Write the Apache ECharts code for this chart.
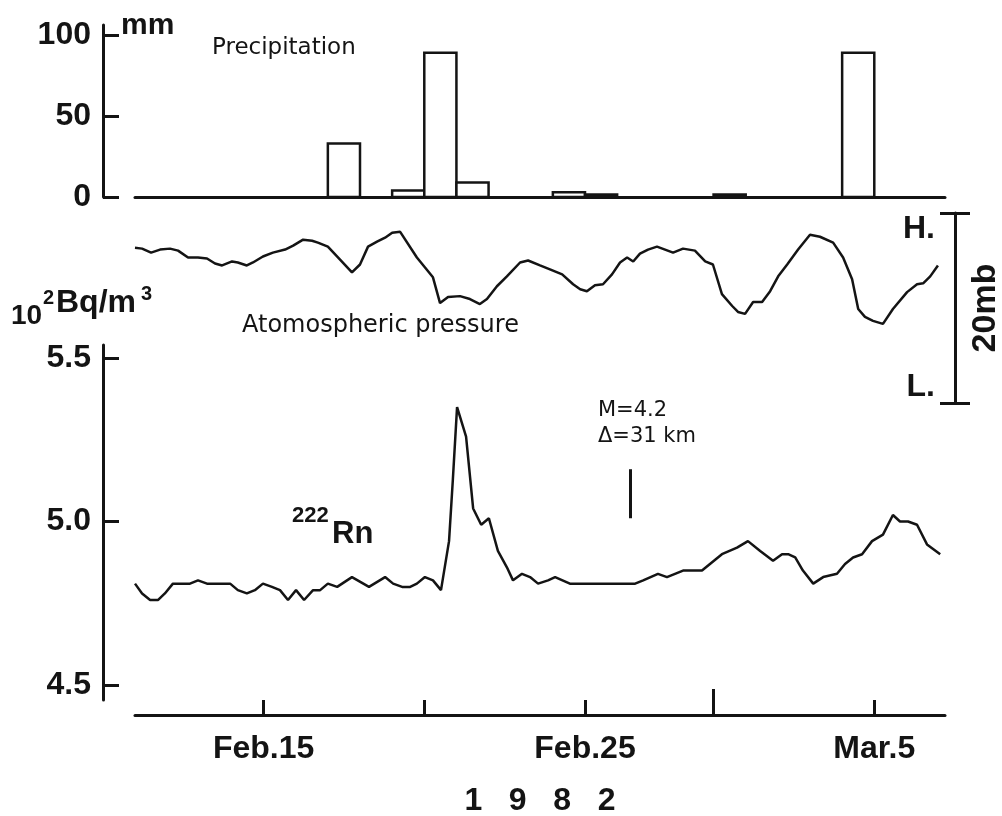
<!DOCTYPE html>
<html>
<head>
<meta charset="utf-8">
<script src="https://cdn.jsdelivr.net/npm/echarts@6/dist/echarts.min.js"></script>
<style>
  html, body { margin: 0; padding: 0; background: #fff; }
  #chart { width: 1002px; height: 816px; }
</style>
</head>
<body>
<div id="chart"></div>
<script>
// ---------------- data (x = day number counted from Feb 1, 1982; Mar.1 = 29) ----------------
const xMin = 11;
const xMax = 36.2;

// x-axis ticks and labels
const dateTicks = [15, 20, 25, 34];
const monthTick = [29];
const dateLabelValues = [15, 25, 34];
const dateLabelTexts = ['Feb.15', 'Feb.25', 'Mar.5'];

// Precipitation (daily totals, mm)
const precipDays = [17, 19, 20, 21, 24, 25, 29, 33];
const precipMm   = [33, 4, 89, 9, 3, 1.5, 1.5, 89];
const precipTicks = [0, 50, 100];

// Atmospheric pressure (mb above the "L." mark; scale bar = 20 mb)
const pressureDays = [11.0, 11.22, 11.50, 11.78, 12.09, 12.34, 12.65, 12.96, 13.24, 13.49, 13.71, 14.02, 14.20, 14.48, 14.67, 14.98, 15.29, 15.67, 15.92, 16.23, 16.51, 16.69, 17.00, 17.38, 17.75, 18.00, 18.25, 18.53, 18.78, 19.00, 19.25, 19.77, 20.27, 20.49, 20.74, 21.11, 21.42, 21.73, 21.95, 22.26, 22.57, 22.98, 23.23, 23.60, 23.91, 24.29, 24.63, 24.85, 25.06, 25.31, 25.56, 25.84, 26.09, 26.31, 26.50, 26.71, 26.96, 27.24, 27.49, 27.74, 28.05, 28.42, 28.74, 28.98, 29.26, 29.58, 29.76, 29.98, 30.23, 30.51, 30.76, 31.01, 31.29, 31.63, 32.00, 32.31, 32.72, 33.03, 33.31, 33.50, 33.71, 33.96, 34.27, 34.58, 35.02, 35.33, 35.52, 35.74, 35.98];
const pressureMb   = [16.35, 16.25, 15.83, 16.15, 16.25, 16.04, 15.31, 15.31, 15.21, 14.69, 14.48, 14.90, 14.79, 14.48, 14.79, 15.42, 15.83, 16.15, 16.56, 17.19, 17.08, 16.88, 16.46, 15.10, 13.75, 14.58, 16.46, 16.98, 17.40, 17.92, 18.02, 15.31, 13.23, 10.52, 11.15, 11.25, 10.94, 10.42, 10.94, 12.29, 13.33, 14.79, 15.00, 14.48, 14.06, 13.54, 12.50, 11.98, 11.77, 12.40, 12.50, 13.54, 14.79, 15.31, 14.90, 15.73, 16.15, 16.46, 16.15, 15.83, 16.25, 16.04, 14.90, 14.58, 11.46, 10.21, 9.58, 9.38, 10.63, 10.63, 11.77, 13.33, 14.58, 16.15, 17.71, 17.50, 16.88, 15.31, 13.02, 9.90, 9.06, 8.65, 8.33, 9.90, 11.67, 12.50, 12.60, 13.33, 14.48];
const pressureMin = 0;
const pressureMax = 20;

// Radon-222 concentration (10^2 Bq/m^3)
const radonDays = [11.0, 11.22, 11.47, 11.72, 11.93, 12.18, 12.71, 12.96, 13.24, 13.96, 14.20, 14.48, 14.73, 14.98, 15.26, 15.51, 15.76, 16.01, 16.26, 16.54, 16.76, 17.00, 17.29, 17.75, 18.28, 18.78, 19.03, 19.31, 19.56, 19.77, 20.02, 20.27, 20.52, 20.77, 20.89, 21.02, 21.30, 21.52, 21.77, 22.01, 22.29, 22.57, 22.76, 23.04, 23.29, 23.54, 23.85, 24.07, 24.53, 26.56, 26.81, 27.27, 27.55, 28.05, 28.64, 29.26, 29.73, 30.07, 30.45, 30.85, 31.13, 31.32, 31.54, 31.78, 32.10, 32.41, 32.84, 33.09, 33.34, 33.62, 33.93, 34.27, 34.58, 34.80, 35.05, 35.33, 35.64, 36.05];
const radonVal  = [4.81, 4.78, 4.76, 4.76, 4.78, 4.81, 4.81, 4.82, 4.81, 4.81, 4.79, 4.78, 4.79, 4.81, 4.80, 4.79, 4.76, 4.79, 4.76, 4.79, 4.79, 4.81, 4.80, 4.83, 4.80, 4.83, 4.81, 4.80, 4.80, 4.81, 4.83, 4.82, 4.79, 4.94, 5.13, 5.35, 5.26, 5.04, 4.99, 5.01, 4.91, 4.86, 4.82, 4.84, 4.83, 4.81, 4.82, 4.83, 4.81, 4.81, 4.82, 4.84, 4.83, 4.85, 4.85, 4.90, 4.92, 4.94, 4.91, 4.88, 4.90, 4.90, 4.89, 4.85, 4.81, 4.83, 4.84, 4.87, 4.89, 4.90, 4.94, 4.96, 5.02, 5.00, 5.00, 4.99, 4.93, 4.90];
const radonTicks = [4.5, 5.0, 5.5];
const radonMin = 4.454;
const radonMax = 5.54;
const precipMax = 106.2;

// Earthquake marker (M=4.2, distance 31 km)
const quakeDay = 26.4;
const quakeTop = 5.16;
const quakeBottom = 5.01;

// ---------------- styling ----------------
const INK = '#141414';
const FB = '"Liberation Sans", Arial, sans-serif';
const FR = '"DejaVu Sans", sans-serif';

const chart = echarts.init(document.getElementById('chart'), null, { renderer: 'canvas' });

const boldLabel = { color: INK, fontFamily: FB, fontWeight: 'bold', fontSize: 32 };

function txt(text, x, y, font) {
  return {
    type: 'text', x: x, y: y, silent: true,
    style: { text: text, font: font, fill: INK, align: 'left', verticalAlign: 'middle' }
  };
}

const option = {
  animation: false,
  backgroundColor: '#ffffff',
  grid: [
    { left: 135, right: 57, top: 25, height: 172, outerBoundsMode: 'none', containLabel: false },
    { left: 135, right: 57, top: 213, height: 190, outerBoundsMode: 'none', containLabel: false },
    { left: 135, right: 57, top: 345, height: 355, outerBoundsMode: 'none', containLabel: false }
  ],
  xAxis: [
    {
      gridIndex: 0, type: 'value', min: xMin, max: xMax,
      axisLine: { show: true, onZero: false, lineStyle: { color: INK, width: 3 } },
      axisTick: { show: false }, axisLabel: { show: false }, splitLine: { show: false }
    },
    { gridIndex: 1, type: 'value', min: xMin, max: xMax, show: false },
    {
      gridIndex: 2, type: 'value', min: xMin, max: xMax, position: 'bottom', offset: 15,
      axisLine: { show: true, onZero: false, lineStyle: { color: INK, width: 3 } },
      axisTick: { show: true, inside: true, length: 15, lineStyle: { color: INK, width: 3 }, customValues: dateTicks },
      axisLabel: Object.assign({
        customValues: dateLabelValues, margin: 18,
        formatter: function (v) {
          const i = dateLabelValues.indexOf(v);
          return i >= 0 ? dateLabelTexts[i] : '';
        }
      }, boldLabel),
      splitLine: { show: false },
      name: '1   9   8   2', nameLocation: 'middle', nameGap: 70,
      nameTextStyle: { color: INK, fontFamily: FB, fontWeight: 'bold', fontSize: 32 }
    },
    {
      gridIndex: 2, type: 'value', min: xMin, max: xMax, position: 'bottom', offset: 15,
      axisLine: { show: false, onZero: false },
      axisTick: { show: true, inside: true, length: 26, lineStyle: { color: INK, width: 3 }, customValues: monthTick },
      axisLabel: { show: false }, splitLine: { show: false }
    }
  ],
  yAxis: [
    {
      gridIndex: 0, type: 'value', min: 0, max: precipMax, position: 'left', offset: 32,
      axisLine: { show: true, onZero: false, lineStyle: { color: INK, width: 3 } },
      axisTick: { show: true, inside: true, length: 16, lineStyle: { color: INK, width: 3 }, customValues: precipTicks },
      axisLabel: Object.assign({ customValues: precipTicks, margin: 12 }, boldLabel),
      splitLine: { show: false }
    },
    {
      gridIndex: 1, type: 'value', min: pressureMin, max: pressureMax, position: 'right', offset: 10,
      axisLine: { show: true, onZero: false, lineStyle: { color: INK, width: 3 } },
      axisTick: { show: true, inside: true, length: 15, lineStyle: { color: INK, width: 3 }, customValues: [pressureMin, pressureMax] },
      axisLabel: Object.assign({
        inside: true, customValues: [pressureMax], margin: 20, verticalAlign: 'top',
        formatter: function () { return 'H.'; }
      }, boldLabel),
      splitLine: { show: false }
    },
    {
      gridIndex: 1, type: 'value', min: pressureMin, max: pressureMax, position: 'right', offset: 10,
      axisLine: { show: false, onZero: false },
      axisTick: { show: true, inside: false, length: 15, lineStyle: { color: INK, width: 3 }, customValues: [pressureMin, pressureMax] },
      axisLabel: Object.assign({
        inside: true, customValues: [pressureMin], margin: 20, verticalAlign: 'bottom',
        formatter: function () { return 'L.'; }
      }, boldLabel),
      splitLine: { show: false },
      name: '20mb', nameLocation: 'middle', nameRotate: 90, nameGap: 14,
      nameTextStyle: { color: INK, fontFamily: FB, fontWeight: 'bold', fontSize: 34 }
    },
    {
      gridIndex: 2, type: 'value', min: radonMin, max: radonMax, position: 'left', offset: 32,
      axisLine: { show: true, onZero: false, lineStyle: { color: INK, width: 3 } },
      axisTick: { show: true, inside: true, length: 16, lineStyle: { color: INK, width: 3 }, customValues: radonTicks },
      axisLabel: Object.assign({
        customValues: radonTicks, margin: 12,
        formatter: function (v) { return v.toFixed(1); }
      }, boldLabel),
      splitLine: { show: false }
    }
  ],
  series: [
    {
      name: 'Precipitation', type: 'custom', xAxisIndex: 0, yAxisIndex: 0,
      encode: { x: 0, y: 1 },
      data: precipDays.map(function (d, i) { return [d, precipMm[i]]; }),
      renderItem: function (params, api) {
        const d = api.value(0), v = api.value(1);
        const p0 = api.coord([d, v]);
        const p1 = api.coord([d + 1, 0]);
        return {
          type: 'rect',
          shape: { x: p0[0], y: p0[1], width: p1[0] - p0[0], height: p1[1] - p0[1] },
          style: { fill: '#ffffff', stroke: INK, lineWidth: 2.5 }
        };
      }
    },
    {
      name: 'Atomospheric pressure', type: 'line', xAxisIndex: 1, yAxisIndex: 1,
      data: pressureDays.map(function (d, i) { return [d, pressureMb[i]]; }),
      symbol: 'none', clip: false,
      lineStyle: { color: INK, width: 2.5 }
    },
    {
      name: 'Rn', type: 'line', xAxisIndex: 2, yAxisIndex: 3,
      data: radonDays.map(function (d, i) { return [d, radonVal[i]]; }),
      symbol: 'none', clip: false,
      lineStyle: { color: INK, width: 2.5 },
      markLine: {
        silent: true, symbol: ['none', 'none'], label: { show: false },
        lineStyle: { color: INK, width: 3, type: 'solid' },
        data: [[{ coord: [quakeDay, quakeTop] }, { coord: [quakeDay, quakeBottom] }]]
      }
    }
  ],
  graphic: [
    txt('mm', 121, 26, 'bold 30px ' + FB),
    txt('Precipitation', 212, 48, '23px ' + FR),
    txt('Atomospheric pressure', 242, 326, '24px ' + FR),
    txt('10', 11, 316, 'bold 28px ' + FB),
    txt('2', 43, 298, 'bold 20px ' + FB),
    txt('Bq/m', 56, 303, 'bold 32px ' + FB),
    txt('3', 141, 294, 'bold 20px ' + FB),
    txt('222', 292, 516, 'bold 22px ' + FB),
    txt('Rn', 332, 534, 'bold 31px ' + FB),
    txt('M=4.2', 598, 411, '21px ' + FR),
    txt('\u0394=31 km', 598, 437, '21px ' + FR)
  ]
};

chart.setOption(option);
</script>
</body>
</html>
